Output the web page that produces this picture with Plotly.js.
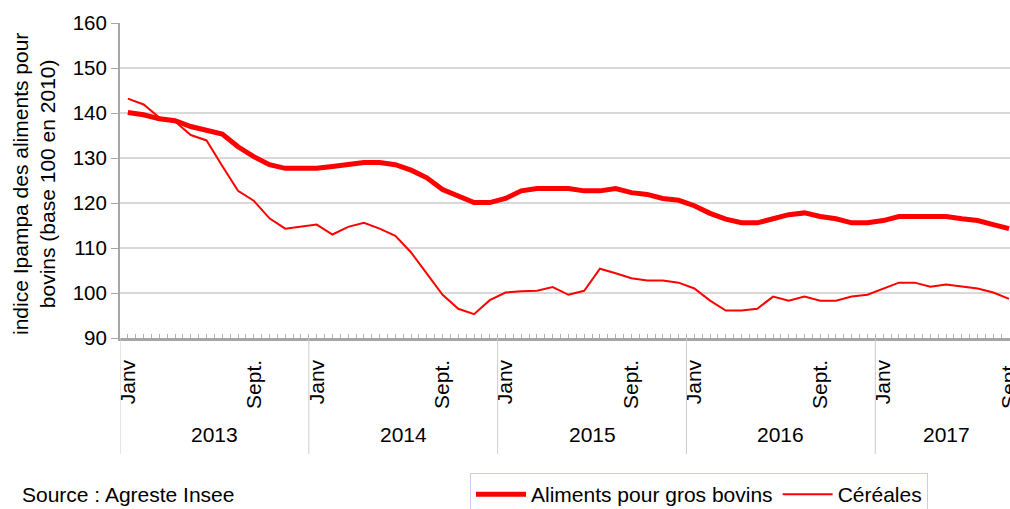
<!DOCTYPE html>
<html>
<head>
<meta charset="utf-8">
<script src="https://cdn.plot.ly/plotly-3.0.1.min.js"></script>
<style>
html,body{margin:0;padding:0;background:#fff;}
#chart{width:1010px;height:509px;}
</style>
</head>
<body>
<div id="chart"></div>
<script>
// Monthly categories, Jan 2013 -> Sept 2017
const years = ['2013','2014','2015','2016','2017'];
const monthsInYear = [12, 12, 12, 12, 9];
const monthTickLabels = {0: 'Janv', 8: 'Sept.'};

// Indice Ipampa (base 100 en 2010)
const aliments = [
  140.1,139.6,138.7,138.3,137.0,136.2,135.3,132.5,130.3,128.5,127.7,127.7,
  127.7,128.1,128.5,129.0,129.0,128.5,127.3,125.6,123.0,121.4,120.1,120.1,
  121.0,122.7,123.2,123.2,123.2,122.7,122.7,123.2,122.3,121.9,121.0,120.6,
  119.4,117.7,116.4,115.6,115.6,116.5,117.4,117.8,117.0,116.5,115.6,115.6,
  116.1,117.0,117.0,117.0,117.0,116.5,116.1,115.2,114.3
];
const cereales = [
  143.2,141.9,139.0,138.1,135.1,133.9,128.2,122.7,120.5,116.6,114.3,114.7,
  115.2,113.0,114.7,115.6,114.3,112.7,109.0,104.3,99.6,96.5,95.3,98.4,
  100.1,100.4,100.5,101.3,99.6,100.5,105.4,104.4,103.3,102.8,102.8,102.3,
  101.0,98.3,96.1,96.1,96.5,99.2,98.3,99.2,98.3,98.3,99.2,99.6,
  101.0,102.3,102.3,101.4,101.9,101.4,101.0,100.1,98.7
];
const seriesNames = ['Aliments pour gros bovins', 'Céréales'];
const yTitle = 'indice Ipampa des aliments pour<br>bovins (base 100 en 2010)';
const sourceText = 'Source : Agreste Insee';

// build month index positions
const monthIdx = [];
const monthOfYear = [];
years.forEach((y, yi) => {
  for (let m = 0; m < monthsInYear[yi]; m++) {
    monthIdx.push(monthIdx.length);
    monthOfYear.push(m);
  }
});
const nMonths = monthIdx.length;

// ticks every half month, labels only for Janv / Sept.
const tickvals = [], ticktext = [];
for (let v = -0.5; v <= nMonths - 0.5 + 1e-9; v += 0.5) {
  tickvals.push(v);
  if (Number.isInteger(v) && v >= 0 && v < nMonths && monthTickLabels[monthOfYear[v]] !== undefined) {
    ticktext.push(monthTickLabels[monthOfYear[v]]);
  } else {
    ticktext.push('');
  }
}

const FONT = 'Liberation Sans, Arial, sans-serif';
const plotH = 315;
const plotW = 890;
const pxY = py => (338 - py) / plotH;   // page y -> paper y
const pxX = px => (px - 120) / plotW;   // page x -> paper x

const traces = [
  {x: monthIdx, y: aliments, name: seriesNames[0], type: 'scatter', mode: 'lines',
   line: {color: '#ff0000', width: 5}},
  {x: monthIdx, y: cereales, name: seriesNames[1], type: 'scatter', mode: 'lines',
   line: {color: '#ff0000', width: 2}}
];

const shapes = [];
const annotations = [];
let start = 0;
years.forEach((y, yi) => {
  const end = start + monthsInYear[yi] - 1;
  shapes.push({type: 'line', xref: 'x', yref: 'paper', x0: start - 0.5, x1: start - 0.5,
    y0: 0, y1: pxY(454), line: {color: '#cccccc', width: 1}});
  annotations.push({xref: 'x', yref: 'paper', x: (start + end) / 2, y: pxY(434),
    text: y, showarrow: false, xanchor: 'center', yanchor: 'middle',
    font: {family: FONT, size: 21, color: '#000'}});
  start = end + 1;
});
annotations.push({xref: 'paper', yref: 'paper', x: pxX(20), y: pxY(494), text: sourceText,
  showarrow: false, xanchor: 'left', yanchor: 'middle', font: {family: FONT, size: 21, color: '#000'}});
annotations.push({xref: 'paper', yref: 'paper', x: pxX(34), y: pxY(184), text: yTitle,
  showarrow: false, textangle: -90, xanchor: 'center', yanchor: 'middle',
  font: {family: FONT, size: 21, color: '#000'}});

const layout = {
  width: 1010, height: 509,
  margin: {l: 120, r: 0, t: 23, b: 171, autoexpand: false},
  paper_bgcolor: '#ffffff', plot_bgcolor: '#ffffff',
  font: {family: FONT, size: 21, color: '#000'},
  showlegend: true,
  legend: {orientation: 'h', x: pxX(470), y: pxY(473), xanchor: 'left', yanchor: 'top',
    bordercolor: '#ccccee', borderwidth: 1, bgcolor: '#ffffff',
    font: {family: FONT, size: 21, color: '#000'}, itemwidth: 50},
  xaxis: {range: [-0.5, 56.06], tickmode: 'array', tickvals: tickvals, ticktext: ticktext,
    ticks: 'inside', ticklen: 4, tickwidth: 1, tickcolor: '#b0b0b0', tickangle: -90,
    ticklabelstandoff: 11, ticklabeloverflow: 'allow',
    showline: true, linecolor: '#a6a6a6', linewidth: 2.5, showgrid: false, zeroline: false,
    tickfont: {family: FONT, size: 21, color: '#000'}, fixedrange: true},
  yaxis: {range: [90, 160], tickmode: 'linear', tick0: 90, dtick: 10,
    ticks: 'outside', ticklen: 7, tickwidth: 1, tickcolor: '#a6a6a6',
    showline: true, linecolor: '#a6a6a6', linewidth: 2, gridcolor: '#d9d9d9', gridwidth: 1.5,
    zeroline: false, tickfont: {family: FONT, size: 20.5, color: '#000'}, fixedrange: true},
  shapes: shapes,
  annotations: annotations
};

Plotly.newPlot('chart', traces, layout, {displayModeBar: false, staticPlot: true});
</script>
</body>
</html>
